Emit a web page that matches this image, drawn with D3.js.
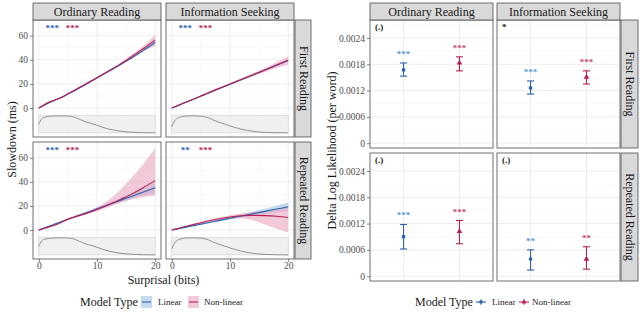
<!DOCTYPE html>
<html>
<head>
<meta charset="utf-8">
<script src="https://cdn.jsdelivr.net/npm/d3@7"></script>
<style>
  body { margin: 0; background: #fff; }
</style>
</head>
<body>
<script>
// ---------------- data ----------------
var readingGoals = ["Ordinary Reading", "Information Seeking"];
var readingRounds = ["First Reading", "Repeated Reading"];
var modelTypes = ["Linear", "Non-linear"];

// surprisal grid for the slowdown curves
var surprisal = [0, 1, 2, 3, 4, 5, 6, 8, 10, 12, 14, 16, 18, 20];

// Ordinary Reading / First Reading
var ordFirstLin   = [0, 2.6, 5.0, 7.0, 9.2, 11.6, 14.0, 19.4, 24.9, 30.4, 35.9, 41.6, 47.8, 54.5];
var ordFirstLinLo = [-0.4, 2.2, 4.6, 6.6, 8.8, 11.2, 13.6, 19.0, 24.4, 29.9, 35.3, 40.8, 46.8, 53.0];
var ordFirstLinHi = [0.4, 3.0, 5.4, 7.4, 9.6, 12.0, 14.4, 19.8, 25.4, 30.9, 36.5, 42.4, 48.8, 56.0];
var ordFirstNl    = [0, 3.0, 5.4, 7.0, 9.0, 11.8, 14.4, 19.8, 25.2, 30.8, 36.4, 42.8, 49.4, 56.5];
var ordFirstNlLo  = [-0.6, 2.4, 4.8, 6.4, 8.4, 11.2, 13.8, 19.1, 24.5, 30.0, 35.4, 41.3, 47.2, 51.5];
var ordFirstNlHi  = [0.6, 3.6, 6.0, 7.6, 9.6, 12.4, 15.0, 20.5, 25.9, 31.6, 37.4, 44.3, 51.6, 61.0];

// Information Seeking / First Reading
var infFirstLin   = [0, 1.9, 3.9, 5.9, 7.9, 9.9, 11.8, 15.8, 19.7, 23.6, 27.6, 31.5, 35.5, 39.4];
var infFirstLinLo = [-0.3, 1.6, 3.6, 5.6, 7.6, 9.6, 11.5, 15.4, 19.3, 23.1, 27.0, 30.8, 34.6, 38.3];
var infFirstLinHi = [0.3, 2.2, 4.2, 6.2, 8.2, 10.2, 12.1, 16.2, 20.1, 24.1, 28.2, 32.2, 36.4, 40.5];
var infFirstNl    = [0, 2.1, 4.1, 6.0, 7.9, 9.9, 12.0, 16.1, 20.0, 23.8, 27.7, 31.6, 35.6, 39.7];
var infFirstNlLo  = [-0.5, 1.6, 3.6, 5.5, 7.4, 9.4, 11.4, 15.4, 19.2, 22.8, 26.4, 29.9, 33.2, 36.0];
var infFirstNlHi  = [0.5, 2.6, 4.6, 6.5, 8.4, 10.4, 12.6, 16.8, 20.8, 24.8, 29.0, 33.3, 38.0, 43.2];

// Ordinary Reading / Repeated Reading
var ordRepLin   = [0, 1.8, 3.6, 5.4, 7.2, 9.0, 10.7, 14.1, 17.6, 21.1, 24.6, 28.1, 31.6, 35.0];
var ordRepLinLo = [-0.6, 1.2, 3.0, 4.8, 6.5, 8.2, 9.9, 13.2, 16.5, 19.7, 22.8, 25.9, 28.6, 30.8];
var ordRepLinHi = [0.6, 2.4, 4.2, 6.0, 7.9, 9.8, 11.5, 15.0, 18.7, 22.5, 26.4, 30.3, 34.6, 39.2];
var ordRepNl    = [0, 1.5, 3.0, 4.6, 6.8, 8.9, 10.6, 13.6, 17.0, 21.0, 25.4, 30.0, 35.3, 41.0];
var ordRepNlLo  = [-0.8, 0.8, 2.3, 3.9, 6.0, 8.0, 9.7, 12.6, 15.6, 19.2, 22.6, 25.5, 27.5, 28.5];
var ordRepNlHi  = [0.8, 2.2, 3.7, 5.3, 7.6, 9.8, 11.5, 14.6, 19.0, 25.0, 33.5, 43.5, 55.0, 68.0];

// Information Seeking / Repeated Reading
var infRepLin   = [0, 1.0, 2.0, 2.9, 3.9, 4.9, 5.9, 7.8, 9.8, 11.7, 13.6, 15.5, 17.4, 19.3];
var infRepLinLo = [-0.5, 0.5, 1.5, 2.4, 3.3, 4.3, 5.2, 7.0, 8.7, 10.4, 11.8, 13.3, 14.6, 15.8];
var infRepLinHi = [0.5, 1.5, 2.5, 3.4, 4.5, 5.5, 6.6, 8.6, 10.9, 13.0, 15.4, 17.7, 20.2, 22.8];
var infRepNl    = [0, 1.2, 2.5, 3.7, 4.9, 6.1, 7.3, 9.2, 10.8, 11.8, 12.2, 12.0, 11.4, 10.4];
var infRepNlLo  = [-0.6, 0.6, 1.9, 3.1, 4.2, 5.3, 6.4, 8.1, 9.3, 9.8, 8.0, 4.5, 1.0, -2.0];
var infRepNlHi  = [0.6, 1.8, 3.1, 4.3, 5.6, 6.9, 8.2, 10.3, 12.3, 13.8, 15.0, 16.0, 17.5, 19.5];

// surprisal density (relative height) shown under each curve
var densityX   = [0, 0.5, 1, 2, 3, 4, 5, 6, 7, 8, 9, 10, 11, 12, 13, 14, 15, 16, 17, 18, 19, 20];
var densityOrd = [0.5, 0.8, 0.9, 0.96, 0.98, 0.98, 0.97, 0.92, 0.78, 0.64, 0.55, 0.44, 0.32, 0.22, 0.15, 0.1, 0.06, 0.04, 0.02, 0.01, 0.005, 0];
var densityInf = [0.35, 0.7, 0.85, 0.95, 0.98, 0.98, 0.96, 0.9, 0.76, 0.62, 0.52, 0.4, 0.3, 0.21, 0.14, 0.09, 0.05, 0.03, 0.02, 0.01, 0.005, 0];

// significance stars on slowdown panels [linear, non-linear]
var slowStars = [["***", "***"], ["***", "***"], ["***", "***"], ["**", "***"]];

// delta log likelihood per panel: [Linear, Non-linear]
var dllMean  = [[0.00167, 0.00183], [0.00126, 0.00151], [0.00090, 0.00102], [0.00039, 0.00039]];
var dllLo    = [[0.00153, 0.00165], [0.00112, 0.00135], [0.00062, 0.00074], [0.00014, 0.00016]];
var dllHi    = [[0.00183, 0.00197], [0.00142, 0.00165], [0.00118, 0.00127], [0.00060, 0.00067]];
var dllStars = [["***", "***"], ["***", "***"], ["***", "***"], ["**", "**"]];
var dllPanelTag = ["(.)", "*", "(.)", "(.)"];

var slowYTicks = [0, 20, 40, 60];
var slowXTicks = [0, 10, 20];
var dllYTicks = [0, 0.0006, 0.0012, 0.0018, 0.0024];
var dllYLabels = ["0", "0.0006", "0.0012", "0.0018", "0.0024"];

// ---------------- look ----------------
var font = "'Liberation Serif', 'DejaVu Serif', serif";
var blue = "#2a62ad", red = "#b51f55";
var blueFill = "#9cc3e6", redFill = "#e9a5bf";
var blueStar = "#5c98d6", redStar = "#c9436f";
var stripFill = "#d9d9d9", border = "#4d4d4d", grid = "#ebebeb";

var svg = d3.select("body")
  .append("svg")
    .attr("width", 640)
    .attr("height", 327)
    .style("font-family", font);

function styleAxis(g) {
  g.select(".domain").remove();
  g.selectAll(".tick line").attr("stroke", "#333").attr("stroke-width", 0.6);
  g.selectAll(".tick text")
    .attr("fill", "#4d4d4d")
    .style("font-family", font)
    .style("font-size", "9.5px");
}

function topStrip(x0, x1, label) {
  svg.append("rect")
    .attr("x", x0).attr("y", 3).attr("width", x1 - x0).attr("height", 17)
    .attr("fill", stripFill).attr("stroke", border).attr("stroke-width", 0.8);
  svg.append("text")
    .attr("x", (x0 + x1) / 2).attr("y", 16)
    .attr("text-anchor", "middle")
    .attr("fill", "#1a1a1a")
    .style("font-size", "12px")
    .text(label);
}

function sideStrip(x0, x1, y0, y1, label) {
  svg.append("rect")
    .attr("x", x0).attr("y", y0).attr("width", x1 - x0).attr("height", y1 - y0)
    .attr("fill", stripFill).attr("stroke", border).attr("stroke-width", 0.8);
  svg.append("text")
    .attr("transform", "translate(" + (x0 + 4.5) + "," + ((y0 + y1) / 2) + ") rotate(90)")
    .attr("text-anchor", "middle")
    .attr("fill", "#1a1a1a")
    .style("font-size", "12px")
    .text(label);
}

// ---------------- left: slowdown curves ----------------
var lCols = [[33, 161], [166, 294]];
var lRows = [[20, 137], [142, 259]];
var slowPanels = [
  {lin: ordFirstLin, linLo: ordFirstLinLo, linHi: ordFirstLinHi, nl: ordFirstNl, nlLo: ordFirstNlLo, nlHi: ordFirstNlHi, dens: densityOrd},
  {lin: infFirstLin, linLo: infFirstLinLo, linHi: infFirstLinHi, nl: infFirstNl, nlLo: infFirstNlLo, nlHi: infFirstNlHi, dens: densityInf},
  {lin: ordRepLin, linLo: ordRepLinLo, linHi: ordRepLinHi, nl: ordRepNl, nlLo: ordRepNlLo, nlHi: ordRepNlHi, dens: densityOrd},
  {lin: infRepLin, linLo: infRepLinLo, linHi: infRepLinHi, nl: infRepNl, nlLo: infRepNlLo, nlHi: infRepNlHi, dens: densityInf}
];

slowPanels.forEach(function(p, i) {
  var r = Math.floor(i / 2), c = i % 2;
  var x = d3.scaleLinear().domain([-1, 21]).range(lCols[c]);
  var y = d3.scaleLinear().domain([-24, 73]).range([lRows[r][1], lRows[r][0]]);
  var dy = d3.scaleLinear().domain([0, 1]).range([y(-20.6), y(-6.2)]);
  var g = svg.append("g");

  // grid
  g.selectAll(".minx").data([5, 15]).enter().append("line")
    .attr("x1", x).attr("x2", x).attr("y1", lRows[r][0]).attr("y2", lRows[r][1])
    .attr("stroke", "#f3f3f3").attr("stroke-width", 0.5);
  g.selectAll(".miny").data([-10, 10, 30, 50, 70]).enter().append("line")
    .attr("x1", lCols[c][0]).attr("x2", lCols[c][1]).attr("y1", y).attr("y2", y)
    .attr("stroke", "#f3f3f3").attr("stroke-width", 0.5);
  g.selectAll(".gx").data(slowXTicks).enter().append("line")
    .attr("x1", x).attr("x2", x).attr("y1", lRows[r][0]).attr("y2", lRows[r][1])
    .attr("stroke", grid).attr("stroke-width", 0.9);
  g.selectAll(".gy").data(slowYTicks).enter().append("line")
    .attr("x1", lCols[c][0]).attr("x2", lCols[c][1]).attr("y1", y).attr("y2", y)
    .attr("stroke", grid).attr("stroke-width", 0.9);

  // density strip
  g.append("rect")
    .attr("x", x(0)).attr("y", dy(1)).attr("width", x(20) - x(0)).attr("height", dy(0) - dy(1))
    .attr("fill", "#f0f0f0").attr("stroke", "#c8c8c8").attr("stroke-width", 0.5);
  g.append("path")
    .datum(densityX.map(function(d, k) { return [d, p.dens[k]]; }))
    .attr("fill", "none").attr("stroke", "#7a7a7a").attr("stroke-width", 0.8)
    .attr("d", d3.line().curve(d3.curveMonotoneX)
      .x(function(d) { return x(d[0]); }).y(function(d) { return dy(d[1]); }));

  // ribbons
  var area = d3.area().curve(d3.curveMonotoneX)
    .x(function(d) { return x(d[0]); })
    .y0(function(d) { return y(d[1]); })
    .y1(function(d) { return y(d[2]); });
  g.append("path")
    .datum(surprisal.map(function(s, k) { return [s, p.linLo[k], p.linHi[k]]; }))
    .attr("fill", blueFill).attr("fill-opacity", 0.6).attr("d", area);
  g.append("path")
    .datum(surprisal.map(function(s, k) { return [s, p.nlLo[k], p.nlHi[k]]; }))
    .attr("fill", redFill).attr("fill-opacity", 0.6).attr("d", area);

  // lines
  var line = d3.line().curve(d3.curveMonotoneX)
    .x(function(d) { return x(d[0]); }).y(function(d) { return y(d[1]); });
  g.append("path")
    .datum(surprisal.map(function(s, k) { return [s, p.lin[k]]; }))
    .attr("fill", "none").attr("stroke", blue).attr("stroke-width", 1.1).attr("d", line);
  g.append("path")
    .datum(surprisal.map(function(s, k) { return [s, p.nl[k]]; }))
    .attr("fill", "none").attr("stroke", red).attr("stroke-width", 1.1).attr("d", line);

  // stars
  g.append("text").attr("x", x(2.3)).attr("y", y(68) + 5).attr("text-anchor", "middle")
    .attr("fill", blue).style("font-size", "9px").style("font-weight", "bold").text(slowStars[i][0]);
  g.append("text").attr("x", x(5.8)).attr("y", y(68) + 5).attr("text-anchor", "middle")
    .attr("fill", red).style("font-size", "9px").style("font-weight", "bold").text(slowStars[i][1]);

  // border
  g.append("rect")
    .attr("x", lCols[c][0]).attr("y", lRows[r][0])
    .attr("width", lCols[c][1] - lCols[c][0]).attr("height", lRows[r][1] - lRows[r][0])
    .attr("fill", "none").attr("stroke", border).attr("stroke-width", 0.8);

  if (c == 0) {
    svg.append("g")
      .attr("transform", "translate(" + lCols[0][0] + ",0)")
      .call(d3.axisLeft(y).tickValues(slowYTicks).tickSize(3).tickPadding(2))
      .call(styleAxis);
  }
  if (r == 1) {
    svg.append("g")
      .attr("transform", "translate(0," + lRows[1][1] + ")")
      .call(d3.axisBottom(x).tickValues(slowXTicks).tickSize(3).tickPadding(0))
      .call(styleAxis);
  }
});

topStrip(lCols[0][0], lCols[0][1], readingGoals[0]);
topStrip(lCols[1][0], lCols[1][1], readingGoals[1]);
sideStrip(295, 311, lRows[0][0], lRows[0][1], readingRounds[0]);
sideStrip(295, 311, lRows[1][0], lRows[1][1], readingRounds[1]);

svg.append("text")
  .attr("transform", "translate(16," + ((lRows[0][0] + lRows[1][1]) / 2) + ") rotate(-90)")
  .attr("text-anchor", "middle").attr("fill", "#1a1a1a").style("font-size", "12px")
  .text("Slowdown (ms)");
svg.append("text")
  .attr("x", (lCols[0][0] + lCols[1][1]) / 2).attr("y", 283.5)
  .attr("text-anchor", "middle").attr("fill", "#1a1a1a").style("font-size", "12px")
  .text("Surprisal (bits)");

// left legend
var legL = svg.append("g").attr("transform", "translate(80,0)");
legL.append("text").attr("x", 0).attr("y", 306).attr("fill", "#1a1a1a").style("font-size", "12px").text("Model Type");
[[61, blueFill, blue, 78], [108, redFill, red, 124]].forEach(function(k, i) {
  legL.append("rect").attr("x", k[0]).attr("y", 296).attr("width", 11).attr("height", 12)
    .attr("fill", k[1]).attr("fill-opacity", 0.6);
  legL.append("line").attr("x1", k[0] + 1).attr("x2", k[0] + 10).attr("y1", 302).attr("y2", 302)
    .attr("stroke", k[2]).attr("stroke-width", 1.1);
  legL.append("text").attr("x", k[3]).attr("y", 305).attr("fill", "#1a1a1a")
    .style("font-size", "9px").text(modelTypes[i]);
});

// ---------------- right: delta log likelihood ----------------
var rCols = [[370, 493], [497, 620]];
var rRows = [[20, 148], [153, 281]];

dllMean.forEach(function(m, i) {
  var r = Math.floor(i / 2), c = i % 2;
  var x = d3.scalePoint().domain(modelTypes).range(rCols[c]).padding(0.6);
  var y = d3.scaleLinear().domain([-0.00011, 0.00281]).range([rRows[r][1], rRows[r][0]]);
  var g = svg.append("g");

  g.selectAll(".miny").data([0.0003, 0.0009, 0.0015, 0.0021, 0.0027]).enter().append("line")
    .attr("x1", rCols[c][0]).attr("x2", rCols[c][1]).attr("y1", y).attr("y2", y)
    .attr("stroke", "#f3f3f3").attr("stroke-width", 0.5);
  g.selectAll(".gy").data(dllYTicks).enter().append("line")
    .attr("x1", rCols[c][0]).attr("x2", rCols[c][1]).attr("y1", y).attr("y2", y)
    .attr("stroke", grid).attr("stroke-width", 0.9);
  g.selectAll(".gx").data(modelTypes).enter().append("line")
    .attr("x1", x).attr("x2", x).attr("y1", rRows[r][0]).attr("y2", rRows[r][1])
    .attr("stroke", grid).attr("stroke-width", 0.9);

  modelTypes.forEach(function(mt, j) {
    var col = j == 0 ? blue : red;
    var cx = x(mt);
    g.append("line").attr("x1", cx).attr("x2", cx).attr("y1", y(dllLo[i][j])).attr("y2", y(dllHi[i][j]))
      .attr("stroke", col).attr("stroke-width", 1.1);
    g.append("line").attr("x1", cx - 3.5).attr("x2", cx + 3.5).attr("y1", y(dllLo[i][j])).attr("y2", y(dllLo[i][j]))
      .attr("stroke", col).attr("stroke-width", 1.1);
    g.append("line").attr("x1", cx - 3.5).attr("x2", cx + 3.5).attr("y1", y(dllHi[i][j])).attr("y2", y(dllHi[i][j]))
      .attr("stroke", col).attr("stroke-width", 1.1);
    g.append("path")
      .attr("transform", "translate(" + cx + "," + y(m[j]) + ")")
      .attr("d", d3.symbol().type(j == 0 ? d3.symbolCircle : d3.symbolTriangle).size(j == 0 ? 11 : 14)())
      .attr("fill", col);
    g.append("text")
      .attr("x", cx).attr("y", y(dllHi[i][j] + 0.00025) + 5)
      .attr("text-anchor", "middle").attr("fill", j == 0 ? blueStar : redStar)
      .style("font-size", "9px").style("font-weight", "bold")
      .text(dllStars[i][j]);
  });

  g.append("text").attr("x", rCols[c][0] + 5).attr("y", rRows[r][0] + 10)
    .attr("fill", "#1a1a1a").style("font-size", "9px").style("font-weight", "bold")
    .text(dllPanelTag[i]);

  g.append("rect")
    .attr("x", rCols[c][0]).attr("y", rRows[r][0])
    .attr("width", rCols[c][1] - rCols[c][0]).attr("height", rRows[r][1] - rRows[r][0])
    .attr("fill", "none").attr("stroke", border).attr("stroke-width", 0.8);

  if (c == 0) {
    svg.append("g")
      .attr("transform", "translate(" + rCols[0][0] + ",0)")
      .call(d3.axisLeft(y).tickValues(dllYTicks).tickSize(3).tickPadding(2)
        .tickFormat(function(d, k) { return dllYLabels[k]; }))
      .call(styleAxis);
  }
});

topStrip(rCols[0][0], rCols[0][1], readingGoals[0]);
topStrip(rCols[1][0], rCols[1][1], readingGoals[1]);
sideStrip(621, 638, rRows[0][0], rRows[0][1], readingRounds[0]);
sideStrip(621, 638, rRows[1][0], rRows[1][1], readingRounds[1]);

svg.append("text")
  .attr("transform", "translate(336," + ((rRows[0][0] + rRows[1][1]) / 2) + ") rotate(-90)")
  .attr("text-anchor", "middle").attr("fill", "#1a1a1a").style("font-size", "12px")
  .text("Delta Log Likelihood (per word)");

// right legend
var legR = svg.append("g").attr("transform", "translate(415,0)");
legR.append("text").attr("x", 0).attr("y", 306).attr("fill", "#1a1a1a").style("font-size", "12px").text("Model Type");
[[61, blue, 77, 0], [104, red, 117, 1]].forEach(function(k, i) {
  legR.append("line").attr("x1", k[0]).attr("x2", k[0] + 10).attr("y1", 302).attr("y2", 302)
    .attr("stroke", k[1]).attr("stroke-width", 1.1);
  legR.append("line").attr("x1", k[0] + 5).attr("x2", k[0] + 5).attr("y1", 299).attr("y2", 305)
    .attr("stroke", k[1]).attr("stroke-width", 0.8);
  legR.append("path")
    .attr("transform", "translate(" + (k[0] + 5) + ",302)")
    .attr("d", d3.symbol().type(k[3] == 0 ? d3.symbolCircle : d3.symbolTriangle).size(10)())
    .attr("fill", k[1]);
  legR.append("text").attr("x", k[2]).attr("y", 305).attr("fill", "#1a1a1a")
    .style("font-size", "9px").text(modelTypes[i]);
});
</script>
</body>
</html>
